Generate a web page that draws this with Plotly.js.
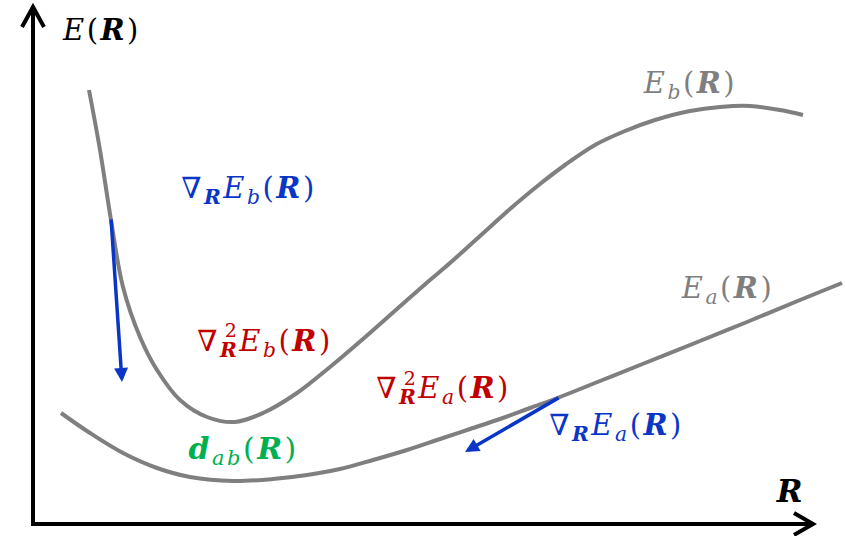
<!DOCTYPE html>
<html>
<head>
<meta charset="utf-8">
<script src="https://cdn.plot.ly/plotly-3.0.1.min.js"></script>
<style>
  html, body { margin: 0; padding: 0; background: #ffffff; }
  #chart { width: 845px; height: 536px; }
  /* math labels are set a little looser than the default */
  #chart .annotation-text { letter-spacing: 2.5px; }
</style>
</head>
<body>
<div id="chart"></div>
<script>
// Potential energy surfaces along the nuclear coordinate R (schematic units)
const R_b = [89, 100, 111, 123, 140, 157, 180, 207, 235, 263, 297, 330, 363, 397, 430, 450, 480, 510, 540, 565, 595, 625, 655, 690, 720, 750, 780, 803];
const E_b = [446, 386, 316, 249, 199, 166, 136, 119, 114, 123, 143, 169, 197, 227, 256, 273, 300, 327, 352, 371, 391, 405, 416, 425, 429, 430, 426, 421];

const R_a = [61, 90, 123, 157, 190, 233, 273, 307, 340, 373, 407, 440, 470, 500, 530, 560, 600, 640, 700, 747, 800, 842];
const E_a = [123, 103, 83, 68, 59, 55, 57, 61, 67, 76, 86, 97, 107, 117, 128, 139, 155, 171, 195, 214, 236, 253];

// Gradient vectors: start point on the surface and end point of the arrow
const gradB_start = [111, 318];
const gradB_end = [122, 154];
const gradA_start = [560, 139];
const gradA_end = [465, 84];

// Axis extents
const axisOrigin = [33, 12];
const axisEndR = 813;
const axisEndE = 529;

const GRAY = '#7f7f7f';
const BLUE = '#0a36c8';
const RED = '#c00000';
const GREEN = '#00b050';
const FONT = 'DejaVu Serif';

const bR = '<b><i>R</i></b>';

const traces = [
  { x: R_b, y: E_b, mode: 'lines', line: { color: GRAY, width: 4, shape: 'spline', smoothing: 1 }, hoverinfo: 'skip' },
  { x: R_a, y: E_a, mode: 'lines', line: { color: GRAY, width: 4, shape: 'spline', smoothing: 1 }, hoverinfo: 'skip' }
];

function label(text, x, y, color, size) {
  return { text: text, x: x, y: y, xref: 'x', yref: 'y', xanchor: 'left', yanchor: 'middle',
           showarrow: false, font: { family: FONT, size: size, color: color } };
}

function gradArrow(start, end) {
  return { x: end[0], y: end[1], ax: start[0], ay: start[1], xref: 'x', yref: 'y', axref: 'x', ayref: 'y',
           text: '', showarrow: true, arrowhead: 2, arrowsize: 0.8, arrowwidth: 3.5, arrowcolor: BLUE, standoff: 0 };
}

const annotations = [
  label('<i>E</i>(' + bR + ')', 65, 506, '#000000', 29),
  label('∇<sub>' + bR + '</sub><i>E</i><sub><i>b</i></sub>(' + bR + ')', 188, 346, BLUE, 29),
  label('∇<sub>' + bR + '</sub><i>E</i><sub><i>b</i></sub>(' + bR + ')', 204, 193, RED, 29),
  label('2', 224, 206, RED, 19),
  label('<b><i>d</i></b><sub><i>ab</i></sub>(' + bR + ')', 194, 86, GREEN, 30),
  label('∇<sub>' + bR + '</sub><i>E</i><sub><i>a</i></sub>(' + bR + ')', 383, 146, RED, 29),
  label('2', 403, 158, RED, 19),
  label('∇<sub>' + bR + '</sub><i>E</i><sub><i>a</i></sub>(' + bR + ')', 556, 109, BLUE, 29),
  label('<i>E</i><sub><i>b</i></sub>(' + bR + ')', 647, 451, GRAY, 29),
  label('<i>E</i><sub><i>a</i></sub>(' + bR + ')', 685, 246, GRAY, 29),
  label(bR, 775, 45, '#000000', 31),
  gradArrow(gradB_start, gradB_end),
  gradArrow(gradA_start, gradA_end)
];

const ox = axisOrigin[0], oy = axisOrigin[1];
const shapes = [
  // E axis
  { type: 'line', x0: ox, y0: oy - 2, x1: ox, y1: axisEndE, line: { color: '#000', width: 4 } },
  { type: 'path', path: `M${ox - 11},${axisEndE - 20} L${ox},${axisEndE} L${ox + 11},${axisEndE - 20}`, line: { color: '#000', width: 4 } },
  // R axis
  { type: 'line', x0: ox - 2, y0: oy, x1: axisEndR, y1: oy, line: { color: '#000', width: 4 } },
  { type: 'path', path: `M${axisEndR - 19},${oy + 11} L${axisEndR},${oy} L${axisEndR - 19},${oy - 11}`, line: { color: '#000', width: 4 } }
];

const layout = {
  width: 845, height: 536,
  margin: { l: 0, r: 0, t: 0, b: 0, pad: 0 },
  paper_bgcolor: '#ffffff', plot_bgcolor: '#ffffff',
  showlegend: false,
  xaxis: { range: [0, 845], visible: false, fixedrange: true },
  yaxis: { range: [0, 536], visible: false, fixedrange: true },
  annotations: annotations,
  shapes: shapes
};

Plotly.newPlot('chart', traces, layout, { staticPlot: true, displayModeBar: false });
</script>
</body>
</html>
